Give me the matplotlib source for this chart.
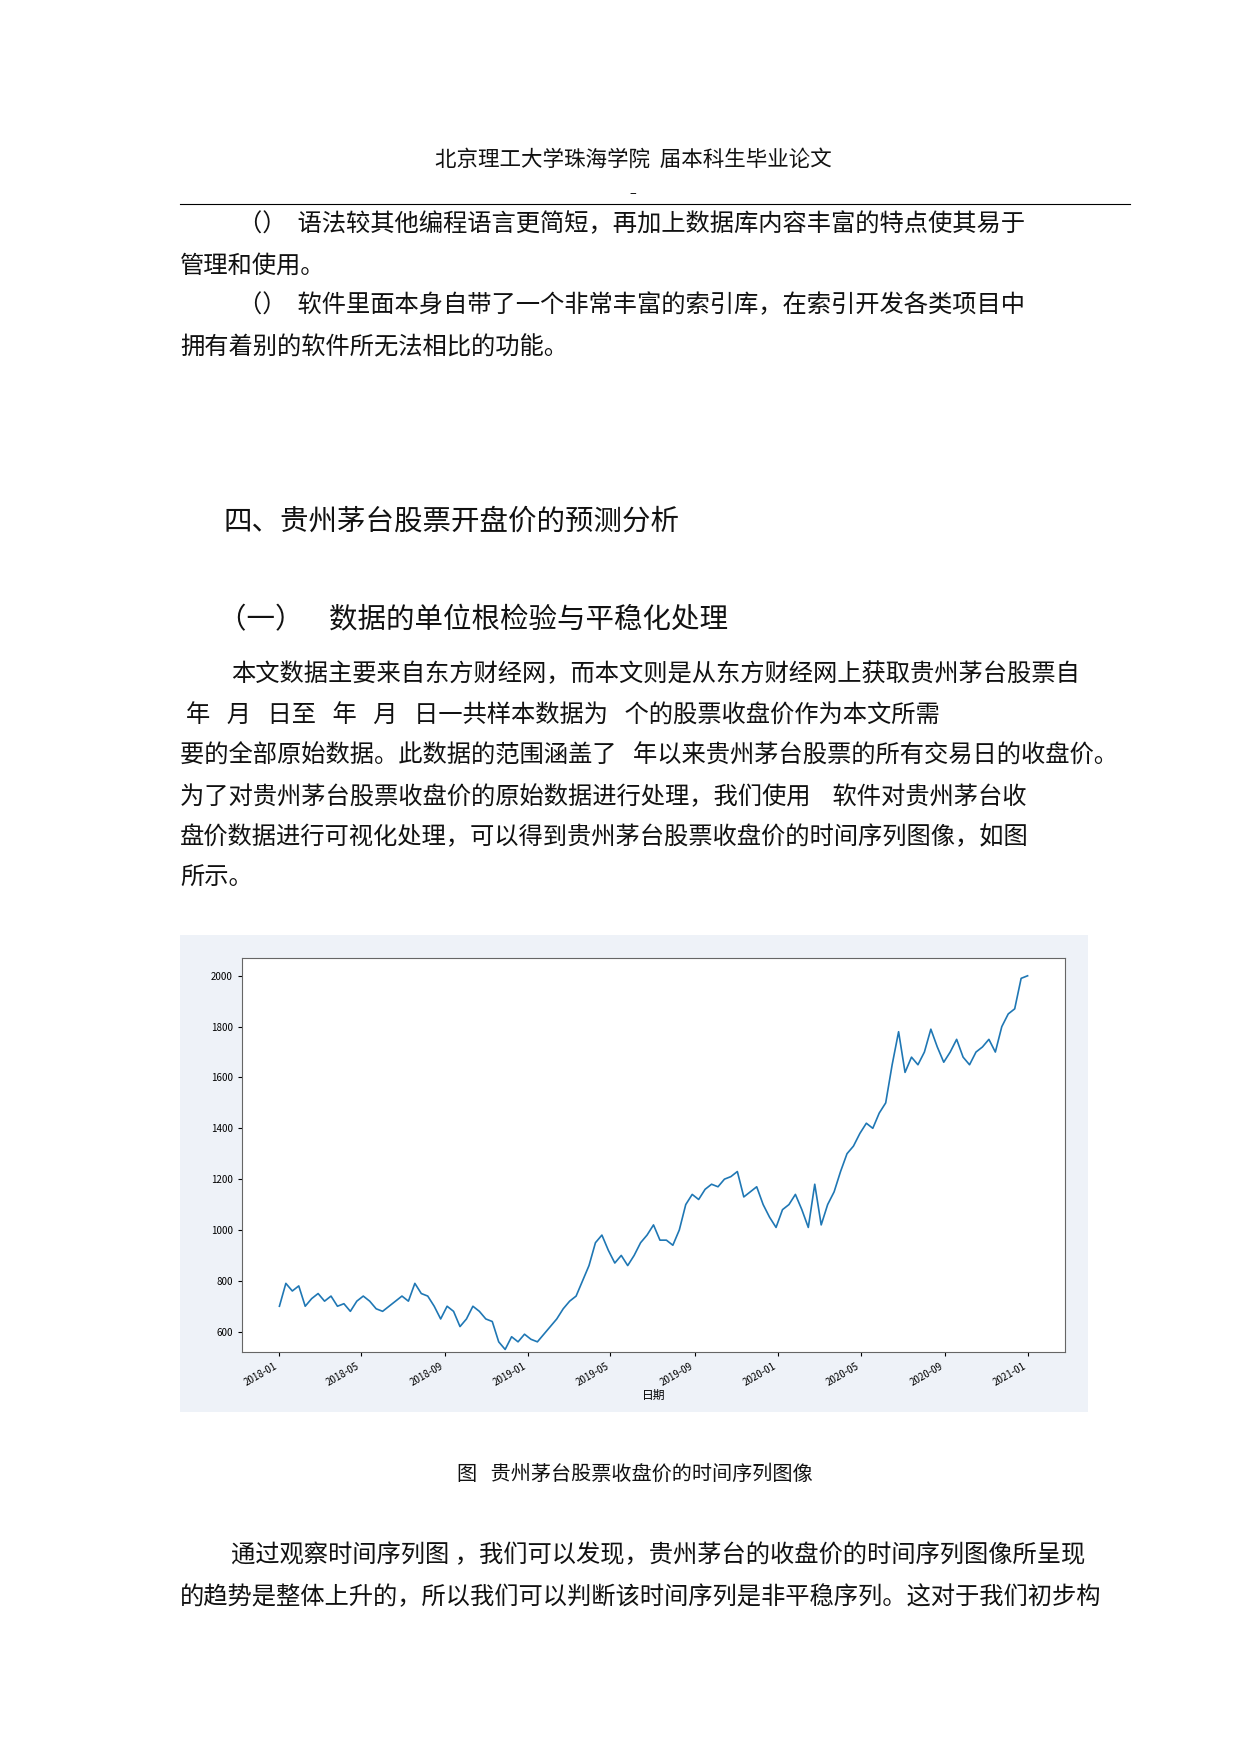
import matplotlib
matplotlib.use('Agg')
import matplotlib.pyplot as plt
import matplotlib.patches as mpatches
import matplotlib.dates as mdates
import pandas as pd

plt.rcParams['font.family'] = ['Noto Sans CJK SC', 'DejaVu Sans']

# hand-read closing prices, roughly weekly from 2018-01 to 2021-01
prices = [700, 790, 760, 780, 700, 730, 750, 720, 740, 700, 710, 680, 720, 740, 720, 690,
          680, 700, 720, 740, 720, 790, 750, 740, 700, 650, 700, 680, 620, 650, 700, 680,
          650, 640, 560, 530, 580, 560, 590, 570, 560, 590, 620, 650, 690, 720, 740, 800,
          860, 950, 980, 920, 870, 900, 860, 900, 950, 980, 1020, 960, 960, 940, 1000, 1100,
          1140, 1120, 1160, 1180, 1170, 1200, 1210, 1230, 1130, 1150, 1170, 1100, 1050, 1010,
          1080, 1100, 1140, 1080, 1010, 1180, 1020, 1100, 1150, 1230, 1300, 1330, 1380, 1420,
          1400, 1460, 1500, 1650, 1780, 1620, 1680, 1650, 1700, 1790, 1720, 1660, 1700, 1750,
          1680, 1650, 1700, 1720, 1750, 1700, 1800, 1850, 1870, 1990, 2000]
dates = pd.date_range('2018-01-02', '2020-12-31', periods=len(prices))
yticks = [600, 800, 1000, 1200, 1400, 1600, 1800, 2000]

W, H = 1240, 1754
fig = plt.figure(figsize=(W / 100, H / 100), dpi=100)

def t(x, y, s, size=17.5, ha='left'):
    fig.text(x / W, 1 - y / H, s, fontsize=size, ha=ha, va='center', color='#111111')

t(633, 160, '北京理工大学珠海学院  届本科生毕业论文', 15.5, 'center')
t(633, 194, '–', 9, 'center')
fig.add_artist(plt.Line2D([180 / W, 1130 / W], [1 - 204 / H] * 2, color='black', lw=0.8))

t(238, 224, '（）  语法较其他编程语言更简短，再加上数据库内容丰富的特点使其易于')
t(180, 266, '管理和使用。')
t(238, 305, '（）  软件里面本身自带了一个非常丰富的索引库，在索引开发各类项目中')
t(180, 347, '拥有着别的软件所无法相比的功能。')

t(223, 522, '四、贵州茅台股票开盘价的预测分析', 20.5)
t(218, 620, '（一）    数据的单位根检验与平稳化处理', 20.5)

t(231, 674, '本文数据主要来自东方财经网，而本文则是从东方财经网上获取贵州茅台股票自')
t(186, 716, '年   月   日至   年   月   日一共样本数据为   个的股票收盘价作为本文所需')
t(180, 756, '要的全部原始数据。此数据的范围涵盖了   年以来贵州茅台股票的所有交易日的收盘价。')
t(180, 797, '为了对贵州茅台股票收盘价的原始数据进行处理，我们使用    软件对贵州茅台收')
t(180, 837, '盘价数据进行可视化处理，可以得到贵州茅台股票收盘价的时间序列图像，如图')
t(180, 878, '所示。')

# chart background
fig.add_artist(mpatches.Rectangle((180 / W, 1 - 1412 / H), 908 / W, 477 / H,
                                  transform=fig.transFigure, facecolor='#eef2f8',
                                  edgecolor='none', zorder=0))
ax = fig.add_axes([242 / W, 1 - 1352 / H, 823 / W, 394 / H])
ax.plot(dates, prices, color='#1f77b4', lw=1.2)
ax.set_ylim(520, 2070)
ax.set_yticks(yticks)
ax.tick_params(labelsize=7, length=3)
ax.xaxis.set_major_locator(mdates.MonthLocator(bymonth=[1, 5, 9]))
ax.xaxis.set_major_formatter(mdates.DateFormatter('%Y-%m'))
for lab in ax.get_xticklabels():
    lab.set_rotation(30)
    lab.set_ha('right')
ax.set_xlabel('日期', fontsize=8.5, labelpad=1)
for s in ax.spines.values():
    s.set_color('#666666')

t(635, 1474, '图   贵州茅台股票收盘价的时间序列图像', 14.5, 'center')
t(231, 1555, '通过观察时间序列图 ，我们可以发现，贵州茅台的收盘价的时间序列图像所呈现')
t(180, 1597, '的趋势是整体上升的，所以我们可以判断该时间序列是非平稳序列。这对于我们初步构')

fig.savefig('out.png', dpi=100, facecolor='white')
